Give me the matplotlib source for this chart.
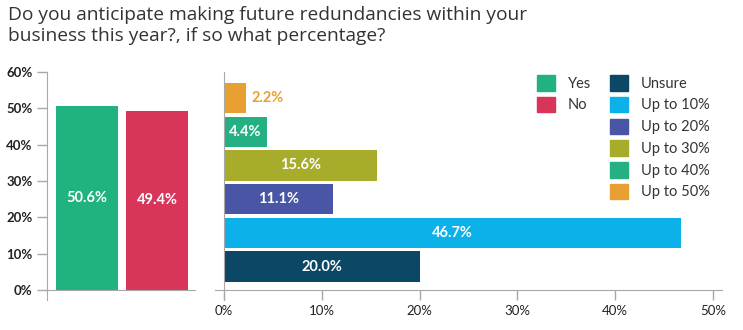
import matplotlib.pyplot as plt
from matplotlib.patches import Patch

plt.rcParams['font.family'] = ['Lato', 'DejaVu Sans']

# left chart
yn_labels = ["Yes", "No"]
yn_values = [50.6, 49.4]
yn_colors = ["#20b27f", "#d9355a"]

# right chart (bottom to top)
pct_labels = ["Unsure", "Up to 10%", "Up to 20%", "Up to 30%", "Up to 40%", "Up to 50%"]
pct_values = [20.0, 46.7, 11.1, 15.6, 4.4, 2.2]
pct_colors = ["#0c4766", "#0db1ea", "#4956a6", "#a7ac2b", "#24b082", "#e8a032"]

left_ticks = [0, 10, 20, 30, 40, 50, 60]
right_ticks = [0, 10, 20, 30, 40, 50]

txt = "#222222"
axc = "#a8a8a8"

fig = plt.figure(figsize=(7.43, 3.30), dpi=100)

fig.text(8 / 743, 1 - 6 / 330,
         "Do you anticipate making future redundancies within your\nbusiness this year?, if so what percentage?",
         fontsize=13.8, color="#333333", va="top", ha="left", linespacing=1.2,
         family=['Open Sans', 'DejaVu Sans'])

# ---- left axes
ax1 = fig.add_axes([47 / 743, 30 / 330, 148 / 743, 228 / 330])
ax1.bar(range(len(yn_values)), yn_values, width=0.886, color=yn_colors)
ax1.set_xlim(-0.571, 1.543)
ax1.set_ylim(-2.75, 60)
ax1.set_yticks(left_ticks)
ax1.set_yticklabels([f"{t}%" for t in left_ticks])
ax1.set_xticks([])
for i, v in enumerate(yn_values):
    ax1.text(i, v / 2, f"{v:.1f}%", color="white", ha="center", va="center",
             fontsize=10.5, fontweight="bold")

# ---- right axes
ax2 = fig.add_axes([215 / 743, 30 / 330, 507 / 743, 228 / 330])
ypos = list(range(len(pct_values)))
ax2.barh(ypos, pct_values, height=0.9, color=pct_colors)
ax2.set_xlim(-0.92, 50.92)
ax2.set_ylim(-0.99, 5.77)
ax2.set_xticks(right_ticks)
ax2.set_xticklabels([f"{t}%" for t in right_ticks])
ax2.set_yticks([])
for i, v in enumerate(pct_values):
    if v < 3:
        ax2.text(v + 0.6, i, f"{v:.1f}%", color=pct_colors[i], ha="left", va="center",
                 fontsize=10.5, fontweight="bold")
    else:
        ax2.text(v / 2, i, f"{v:.1f}%", color="white", ha="center", va="center",
                 fontsize=10.5, fontweight="bold")

for ax in (ax1, ax2):
    for s in ("top", "right"):
        ax.spines[s].set_visible(False)
    ax.spines["left"].set_color(axc)
    ax.spines["bottom"].set_color(axc)
    ax.tick_params(colors=axc, labelcolor=txt, labelsize=9.5, length=7, width=1)
    for lab in ax.get_xticklabels() + ax.get_yticklabels():
        lab.set_fontweight("bold")

ax1.spines["bottom"].set_position(("data", 0))
ax2.spines["left"].set_position(("data", 0))
ax2.spines["bottom"].set_position(("data", -0.69))
ax2.tick_params(axis="x", pad=4)

# legends
h1 = [Patch(color=c) for c in yn_colors]
fig.legend(h1, yn_labels, loc="upper left", bbox_to_anchor=(524 / 743, 1 - 62 / 330),
           frameon=False, fontsize=10.5, handlelength=1.25, handleheight=1.25,
           handletextpad=0.85, labelspacing=0.42, labelcolor="#333333")
h2 = [Patch(color=c) for c in pct_colors]
fig.legend(h2, pct_labels, loc="upper left", bbox_to_anchor=(597 / 743, 1 - 62 / 330),
           frameon=False, fontsize=10.5, handlelength=1.25, handleheight=1.25,
           handletextpad=0.85, labelspacing=0.42, labelcolor="#333333")

fig.savefig("out.png", dpi=100)
